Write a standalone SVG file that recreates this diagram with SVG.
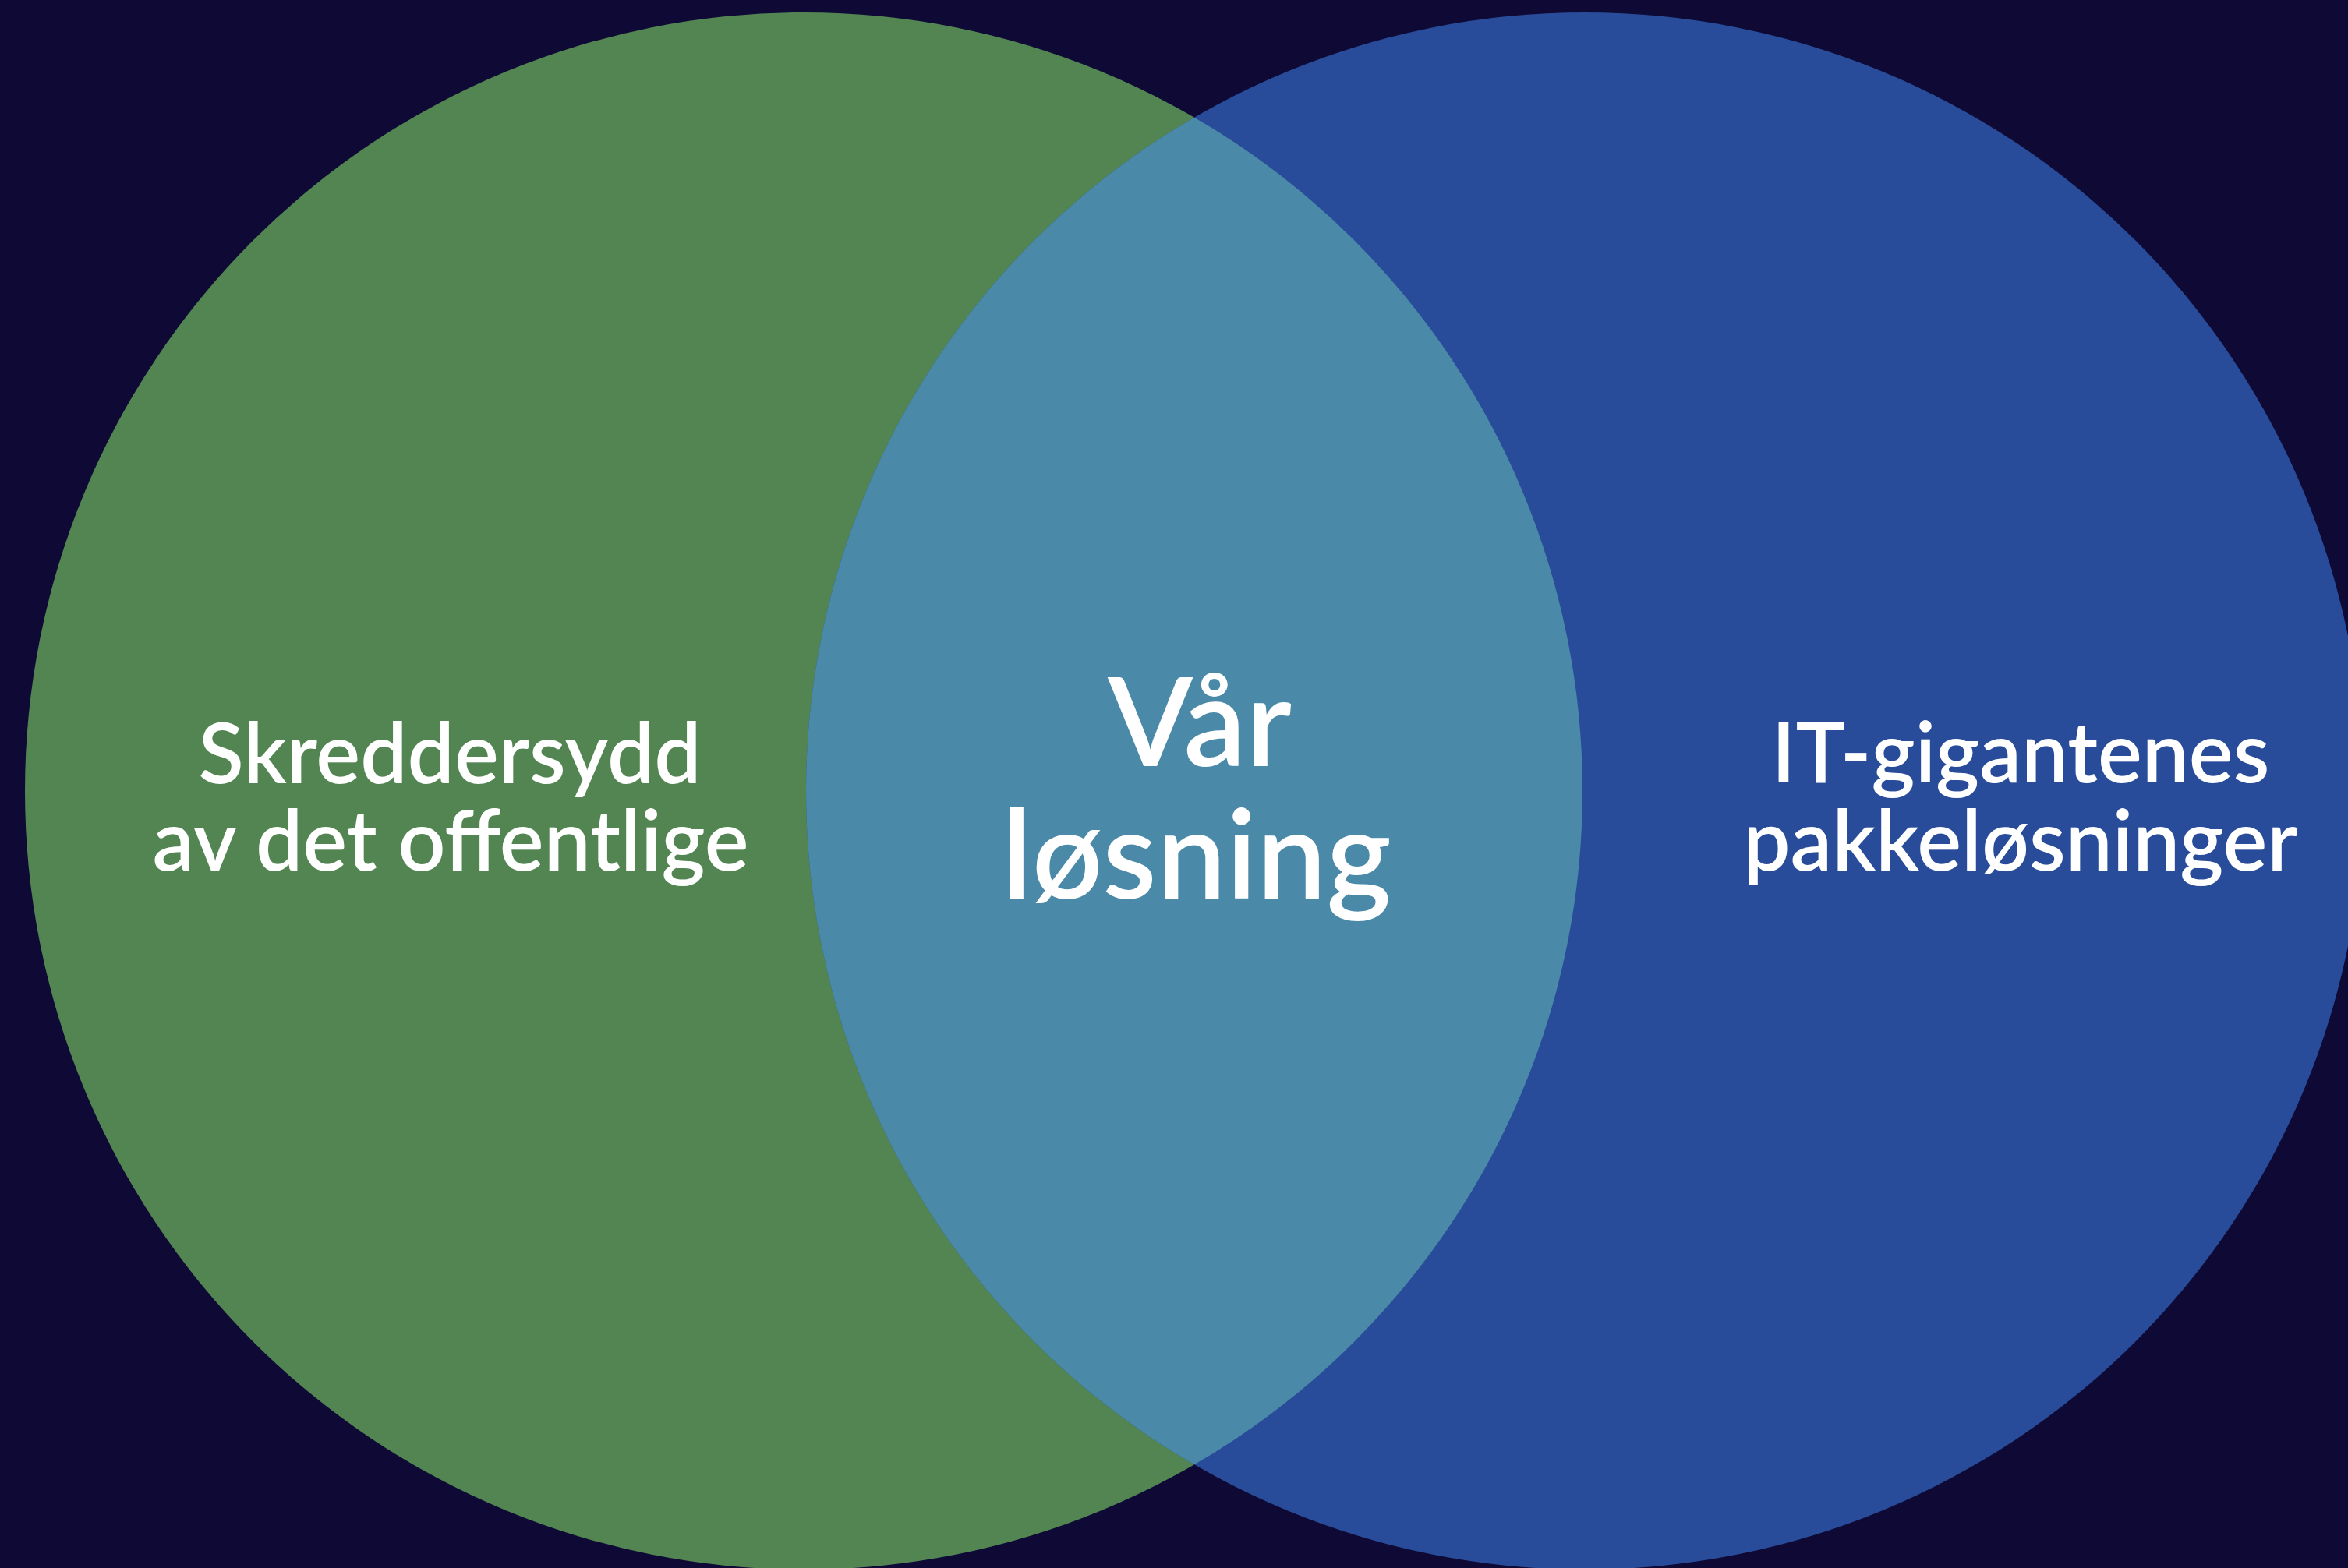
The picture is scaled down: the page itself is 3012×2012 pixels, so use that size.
<svg xmlns="http://www.w3.org/2000/svg" width="3012" height="2012" viewBox="0 0 3012 2012">
  <style>
    .lbl { font-family: Lato, "Open Sans", "Liberation Sans", sans-serif; font-weight: 600; fill: #ffffff; text-anchor: middle; }
    .side { font-size: 107px; }
    .mid { font-size: 159px; }
  </style>
  <defs>
    <clipPath id="clipLeft"><circle cx="1031" cy="1015" r="999"/></clipPath>
  </defs>
  <rect x="0" y="0" width="3012" height="2012" fill="#0f0a35"/>
  <g id="node-left">
    <circle cx="1031" cy="1015" r="999" fill="#538553"/>
  </g>
  <g id="node-right">
    <circle cx="2033" cy="1015" r="999" fill="#284c9a"/>
  </g>
  <g id="node-overlap">
    <circle cx="2033" cy="1015" r="999" fill="#4a89a8" clip-path="url(#clipLeft)"/>
  </g>
  <g id="connectors"></g>
  <g id="labels">
    <text class="lbl side" x="577" y="1005">Skreddersydd</text>
    <text class="lbl side" x="578" y="1117">av det offentlige</text>
    <text class="lbl mid" x="1539" y="983">Vår</text>
    <text class="lbl mid" x="1535" y="1153">løsning</text>
    <text class="lbl side" x="2592" y="1004">IT-gigantenes</text>
    <text class="lbl side" x="2592" y="1117">pakkeløsninger</text>
  </g>
</svg>
